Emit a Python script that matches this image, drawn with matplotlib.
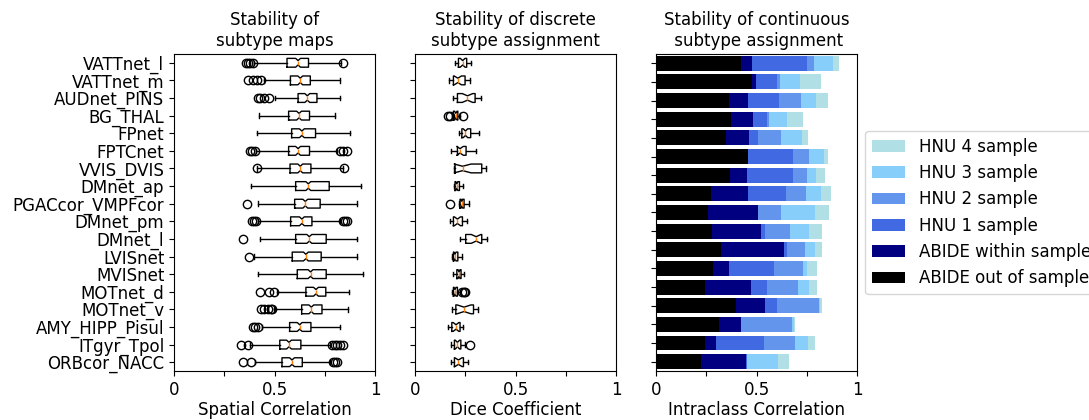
"""
Subtype stability figure: spatial correlation, dice and ICC panels.
"""

import numpy as np
import matplotlib
matplotlib.use("Agg")
import matplotlib.pyplot as plt

plt.rcParams["font.size"] = 12


# -------------------------------------------------
# DATA
# -------------------------------------------------
networks = ["VATTnet_l", "VATTnet_m", "AUDnet_PINS", "BG_THAL", "FPnet",
            "FPTCnet", "VVIS_DVIS", "DMnet_ap", "PGACcor_VMPFcor", "DMnet_pm",
            "DMnet_l", "LVISnet", "MVISnet", "MOTnet_d", "MOTnet_v",
            "AMY_HIPP_Pisul", "ITgyr_Tpol", "ORBcor_NACC"]

# spatial correlation of subtype maps
map_whislo = [0.40, 0.446, 0.50, 0.421, 0.412, 0.41, 0.415, 0.383, 0.417,
              0.42, 0.43, 0.397, 0.417, 0.512, 0.496, 0.438, 0.38, 0.405]
map_q1 = [0.562, 0.579, 0.617, 0.570, 0.585, 0.570, 0.577, 0.605, 0.600,
          0.580, 0.605, 0.588, 0.613, 0.656, 0.635, 0.575, 0.526, 0.537]
map_med = [0.617, 0.628, 0.663, 0.622, 0.636, 0.617, 0.628, 0.668, 0.653,
           0.636, 0.673, 0.656, 0.679, 0.706, 0.683, 0.625, 0.572, 0.587]
map_q3 = [0.669, 0.678, 0.711, 0.674, 0.704, 0.674, 0.681, 0.772, 0.727,
          0.686, 0.757, 0.732, 0.757, 0.755, 0.736, 0.681, 0.631, 0.638]
map_whishi = [0.83, 0.826, 0.826, 0.802, 0.873, 0.81, 0.84, 0.929, 0.909,
              0.826, 0.912, 0.912, 0.939, 0.868, 0.864, 0.826, 0.777, 0.777]
map_fliers = [
    [0.36, 0.37, 0.38, 0.395, 0.843],
    [0.367, 0.392, 0.413, 0.435],
    [0.417, 0.43, 0.45, 0.47],
    [],
    [],
    [0.38, 0.39, 0.405, 0.826, 0.84, 0.86],
    [0.413, 0.848],
    [],
    [0.364],
    [0.39, 0.40, 0.41, 0.843, 0.85, 0.86],
    [0.342],
    [0.372],
    [],
    [0.43, 0.471, 0.499],
    [0.433, 0.45, 0.465, 0.48, 0.488],
    [0.393, 0.405, 0.42],
    [0.334, 0.367, 0.785, 0.80, 0.81, 0.825, 0.843],
    [0.342, 0.383, 0.793, 0.80, 0.813],
]

# dice coefficient of discrete assignment
dice_whislo = [0.199, 0.171, 0.191, 0.183, 0.219, 0.178, 0.196, 0.194, 0.221,
               0.174, 0.224, 0.183, 0.191, 0.183, 0.186, 0.166, 0.179, 0.178]
dice_q1 = [0.216, 0.191, 0.211, 0.191, 0.233, 0.211, 0.199, 0.199, 0.224,
           0.191, 0.252, 0.191, 0.208, 0.191, 0.203, 0.183, 0.196, 0.196]
dice_med = [0.237, 0.213, 0.261, 0.203, 0.251, 0.224, 0.237, 0.208, 0.233,
            0.211, 0.304, 0.199, 0.219, 0.199, 0.244, 0.204, 0.211, 0.216]
dice_q3 = [0.257, 0.249, 0.299, 0.213, 0.277, 0.254, 0.332, 0.221, 0.244,
           0.236, 0.332, 0.213, 0.229, 0.211, 0.291, 0.224, 0.228, 0.241]
dice_whishi = [0.279, 0.274, 0.329, 0.224, 0.316, 0.304, 0.354, 0.241, 0.269,
               0.257, 0.357, 0.236, 0.246, 0.225, 0.312, 0.241, 0.249, 0.262]
dice_cilo = [0.225, 0.195, 0.235, 0.197, 0.240, 0.208, 0.195, 0.203, 0.229,
             0.196, 0.280, 0.194, 0.214, 0.194, 0.210, 0.190, 0.200, 0.198]
dice_cihi = [0.249, 0.231, 0.287, 0.209, 0.262, 0.240, 0.279, 0.213, 0.237,
             0.226, 0.328, 0.204, 0.224, 0.204, 0.278, 0.218, 0.222, 0.234]
dice_fliers = [[], [], [], [0.163, 0.174, 0.241], [], [], [], [], [0.174],
               [], [], [], [], [0.233, 0.246, 0.25], [], [], [0.274], []]

# intraclass correlation, stacked segment lengths (17 bars)
icc_labels = ["ABIDE out of sample", "ABIDE within sample", "HNU 1 sample",
              "HNU 2 sample", "HNU 3 sample", "HNU 4 sample"]
icc_abide_out = [0.425, 0.475, 0.362, 0.375, 0.350, 0.460, 0.368, 0.275, 0.258,
                 0.278, 0.322, 0.285, 0.245, 0.397, 0.312, 0.245, 0.225]
icc_abide_in = [0.052, 0.023, 0.098, 0.108, 0.112, 0.000, 0.084, 0.185, 0.249,
                0.242, 0.315, 0.080, 0.227, 0.143, 0.111, 0.055, 0.225]
icc_hnu1 = [0.273, 0.104, 0.152, 0.069, 0.043, 0.222, 0.230, 0.187, 0.000,
            0.022, 0.015, 0.222, 0.078, 0.062, 0.000, 0.237, 0.003]
icc_hnu2 = [0.037, 0.013, 0.111, 0.011, 0.117, 0.080, 0.071, 0.100, 0.116,
            0.125, 0.091, 0.146, 0.157, 0.210, 0.255, 0.156, 0.000]
icc_hnu3 = [0.093, 0.103, 0.074, 0.089, 0.105, 0.075, 0.044, 0.073, 0.169,
            0.095, 0.049, 0.019, 0.055, 0.006, 0.010, 0.064, 0.152]
icc_hnu4 = [0.032, 0.102, 0.058, 0.078, 0.028, 0.018, 0.045, 0.048, 0.070,
            0.063, 0.035, 0.048, 0.041, 0.007, 0.004, 0.035, 0.057]
icc_colors = ["black", "navy", "royalblue", "cornflowerblue",
              "lightskyblue", "powderblue"]


# -------------------------------------------------
# HELPERS
# -------------------------------------------------
def make_stats(whislo, q1, med, q3, whishi, fliers, cilo, cihi):
    stats = []
    for i in range(len(med)):
        stats.append({
            "whislo": whislo[i], "q1": q1[i], "med": med[i], "q3": q3[i],
            "whishi": whishi[i], "fliers": fliers[i],
            "cilo": cilo[i], "cihi": cihi[i],
        })
    return stats


def style_x(ax, label):
    ax.set_xlim(0, 1)
    ax.set_xticks([0, 0.25, 0.5, 0.75, 1])
    ax.set_xticklabels(["0", "", "0.5", "", "1"])
    ax.set_xlabel(label, labelpad=1.5)


# -------------------------------------------------
# FIGURE
# -------------------------------------------------
fig = plt.figure(figsize=(10.89, 4.2), dpi=100)
bottom, height, width = 0.1167, 0.7548, 0.1846
ax1 = fig.add_axes([0.1598, bottom, width, height])
ax2 = fig.add_axes([0.3811, bottom, width, height])
ax3 = fig.add_axes([0.6024, bottom, width, height])

n = len(networks)
pos = np.arange(n, 0, -1)

# ---- spatial correlation ----
map_cilo = [m - 0.012 for m in map_med]
map_cihi = [m + 0.012 for m in map_med]
ax1.bxp(make_stats(map_whislo, map_q1, map_med, map_q3, map_whishi,
                   map_fliers, map_cilo, map_cihi),
        positions=pos, orientation="horizontal", shownotches=True)
ax1.set_yticks(pos)
ax1.set_yticklabels(networks)
ax1.set_ylim(0.5, n + 0.5)
style_x(ax1, "Spatial Correlation")
ax1.set_title("Stability of\nsubtype maps", fontsize=12)

# ---- dice ----
ax2.bxp(make_stats(dice_whislo, dice_q1, dice_med, dice_q3, dice_whishi,
                   dice_fliers, dice_cilo, dice_cihi),
        positions=pos, orientation="horizontal", shownotches=True)
ax2.set_yticks(pos)
ax2.set_yticklabels([])
ax2.set_ylim(0.5, n + 0.5)
style_x(ax2, "Dice Coefficient")
ax2.set_title("Stability of discrete\nsubtype assignment", fontsize=12)

# ---- ICC stacked bars ----
series = [icc_abide_out, icc_abide_in, icc_hnu1, icc_hnu2, icc_hnu3, icc_hnu4]
m = len(icc_abide_out)
ypos = np.arange(m)[::-1]
left = np.zeros(m)
handles = []
for vals, col, lab in zip(series, icc_colors, icc_labels):
    h = ax3.barh(ypos, vals, left=left, height=0.8, color=col, label=lab)
    handles.append(h)
    left = left + np.array(vals)
ax3.set_yticks(ypos)
ax3.set_yticklabels([])
ax3.set_ylim(-0.5, m - 0.5)
style_x(ax3, "Intraclass Correlation")
ax3.set_title("Stability of continuous\n subtype assignment", fontsize=12)

ax3.legend(handles[::-1], icc_labels[::-1], loc="center left",
           bbox_to_anchor=(1.0, 0.5))

fig.savefig("out.png", dpi=100)
